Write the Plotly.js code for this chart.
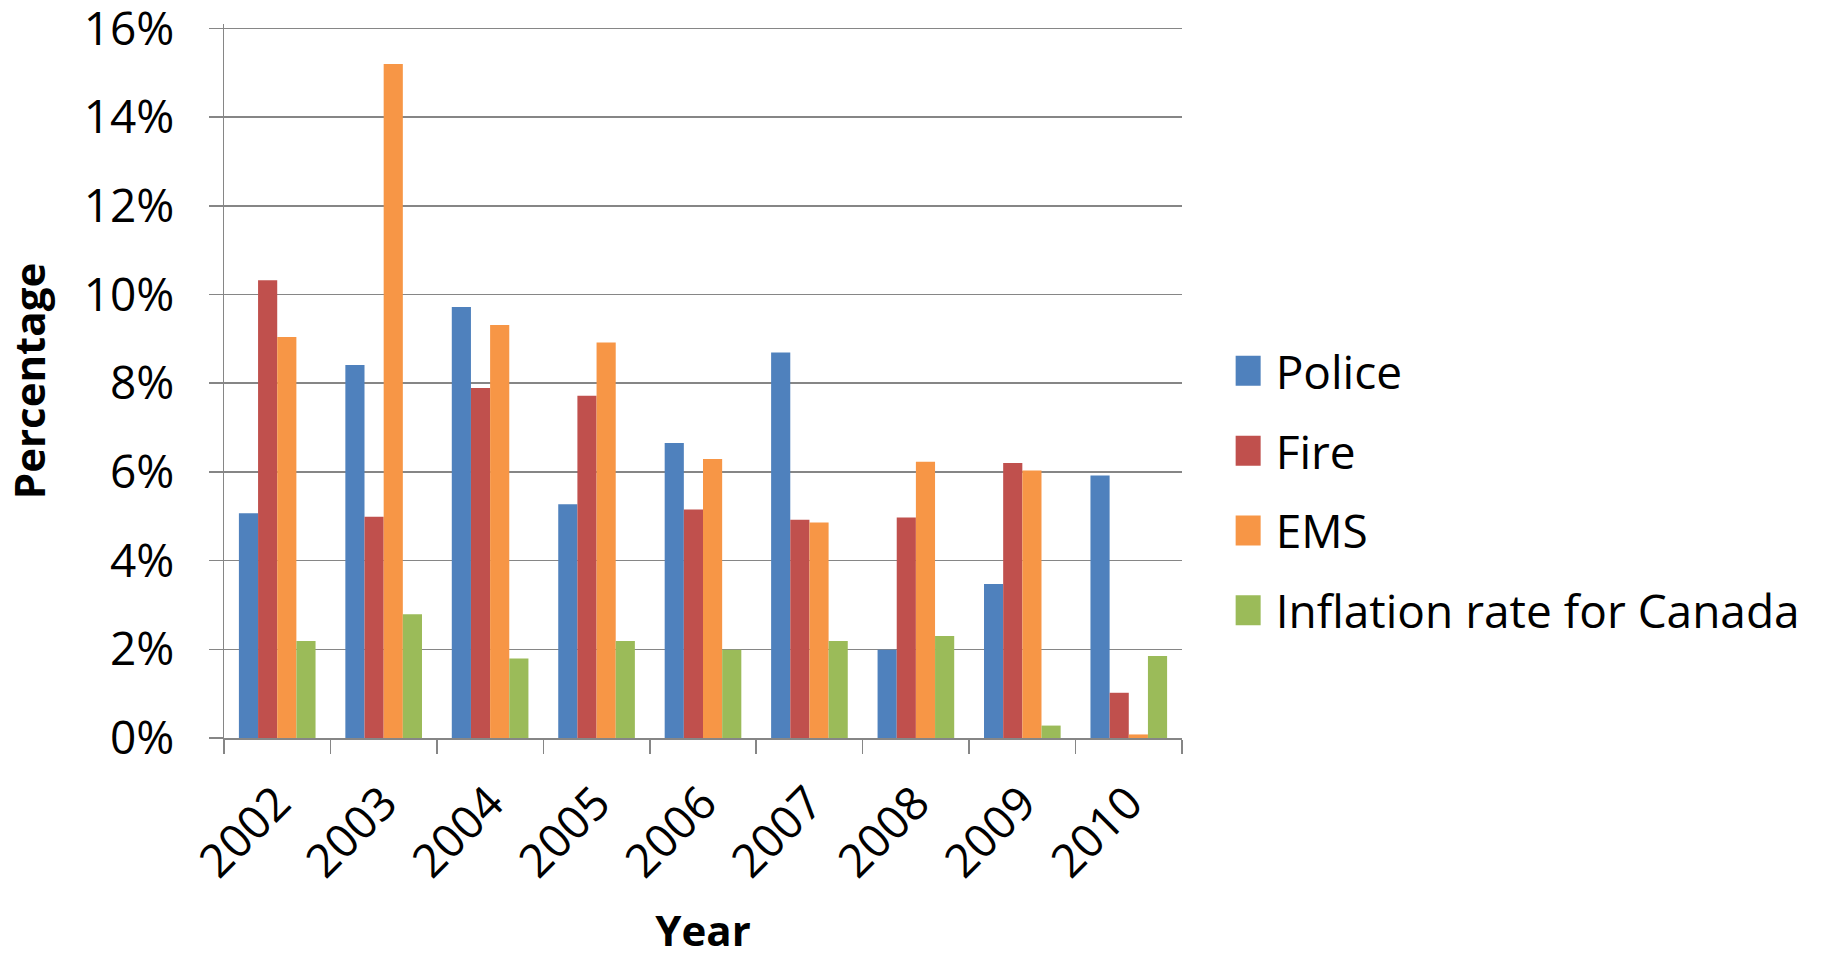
<!DOCTYPE html>
<html>
<head>
<meta charset="utf-8">
<script src="https://cdn.plot.ly/plotly-3.0.1.min.js"></script>
<style>
  html, body { margin: 0; padding: 0; background: #fff; }
  #chart { width: 1821px; height: 958px; }
</style>
</head>
<body>
<div id="chart"></div>
<script>
const years = ["2002", "2003", "2004", "2005", "2006", "2007", "2008", "2009", "2010"];
const police = [5.07, 8.41, 9.72, 5.27, 6.65, 8.69, 1.99, 3.47, 5.92];
const fire = [10.32, 4.99, 7.89, 7.72, 5.15, 4.92, 4.97, 6.20, 1.02];
const ems = [9.04, 15.20, 9.31, 8.92, 6.29, 4.86, 6.23, 6.03, 0.08];
const inflation = [2.19, 2.79, 1.79, 2.19, 1.99, 2.19, 2.30, 0.28, 1.85];
const seriesNames = ["Police", "Fire", "EMS", "Inflation rate for Canada"];
const seriesColors = ["#4F81BD", "#C0504D", "#F79646", "#9BBB59"];
const seriesValues = [police, fire, ems, inflation];

const FONT = "Open Sans, DejaVu Sans, sans-serif";
const traces = seriesValues.map((vals, i) => ({
  type: "bar",
  name: seriesNames[i],
  x: years,
  y: vals,
  legendgroup: "g" + i,
  marker: { color: seriesColors[i], line: { width: 0 } },
  hoverinfo: "x+y+name"
}));

const layout = {
  width: 1821,
  height: 958,
  paper_bgcolor: "#ffffff",
  plot_bgcolor: "#ffffff",
  margin: { l: 224, r: 639, t: 24, b: 220 },
  barmode: "group",
  bargap: 0.28,
  bargroupgap: 0,
  showlegend: true,
  font: { family: FONT, color: "#000000", size: 46 },
  legend: {
    x: 1.056, xanchor: "left",
    y: 0.346, yanchor: "middle",
    font: { family: FONT, size: 46, color: "#000" },
    traceorder: "grouped",
    tracegroupgap: 17,
    itemwidth: 30,
    bgcolor: "rgba(0,0,0,0)"
  },
  xaxis: {
    type: "category",
    tickangle: -45,
    ticks: "outside",
    tickson: "boundaries",
    ticklen: 14,
    tickwidth: 1.5,
    tickcolor: "#868686",
    showline: true,
    linecolor: "#868686",
    linewidth: 1.5,
    showgrid: false,
    tickfont: { family: FONT, size: 46, color: "#000" },
    ticklabelstandoff: 18,
    title: { text: "<b>Year</b>", font: { family: FONT, size: 42, color: "#000" }, standoff: 40 },
    automargin: false
  },
  yaxis: {
    range: [0, 16.1],
    dtick: 2,
    tick0: 0,
    ticksuffix: "%",
    ticks: "outside",
    ticklen: 14,
    tickwidth: 1.5,
    tickcolor: "#868686",
    showline: true,
    linecolor: "#868686",
    linewidth: 1.5,
    showgrid: true,
    gridcolor: "#868686",
    gridwidth: 1.5,
    zeroline: false,
    tickfont: { family: FONT, size: 46, color: "#000" },
    ticklabelstandoff: 25,
    ticklabeloverflow: "allow",
    title: { text: "<b>Percentage</b>", font: { family: FONT, size: 42, color: "#000" }, standoff: 28 },
    automargin: false
  }
};

Plotly.newPlot("chart", traces, layout, { displayModeBar: false, staticPlot: true }).then(() => {
  document.querySelectorAll("#chart .legend .legendpoints path").forEach(p => {
    p.setAttribute("d", "M5,15H-25V-15H5Z");
  });
});
</script>
</body>
</html>
